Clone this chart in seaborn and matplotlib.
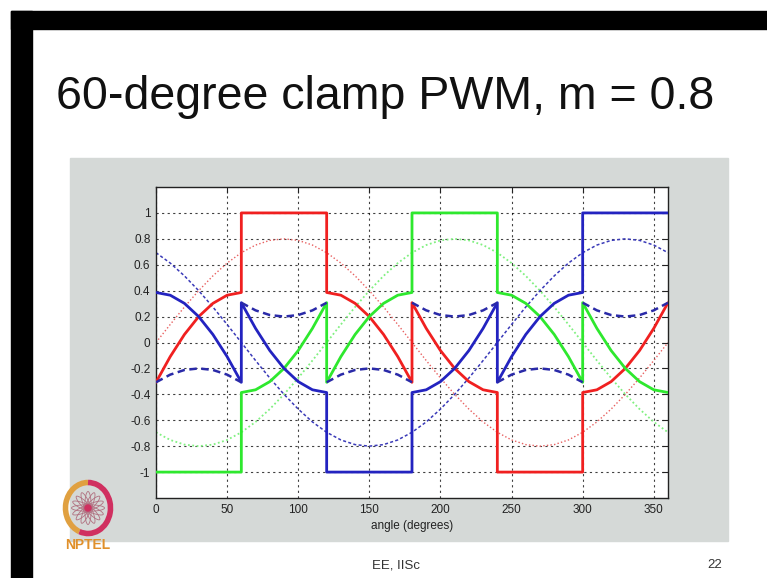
import matplotlib
matplotlib.use("Agg")
import matplotlib.pyplot as plt
import matplotlib.patches as mpatches
import seaborn as sns

# reference sinusoids, m = 0.8, sampled every 10 degrees
angle = [0, 10, 20, 30, 40, 50, 60, 70, 80, 90, 100, 110, 120, 130, 140, 150, 160, 170, 180,
         190, 200, 210, 220, 230, 240, 250, 260, 270, 280, 290, 300, 310, 320, 330, 340, 350, 360]
red_ref = [0, 0.139, 0.274, 0.400, 0.514, 0.613, 0.693, 0.752, 0.788, 0.800, 0.788, 0.752, 0.693,
           0.613, 0.514, 0.400, 0.274, 0.139, 0, -0.139, -0.274, -0.400, -0.514, -0.613, -0.693,
           -0.752, -0.788, -0.800, -0.788, -0.752, -0.693, -0.613, -0.514, -0.400, -0.274, -0.139, 0]
green_ref = [-0.693, -0.752, -0.788, -0.800, -0.788, -0.752, -0.693, -0.613, -0.514, -0.400, -0.274,
             -0.139, 0, 0.139, 0.274, 0.400, 0.514, 0.613, 0.693, 0.752, 0.788, 0.800, 0.788, 0.752,
             0.693, 0.613, 0.514, 0.400, 0.274, 0.139, 0, -0.139, -0.274, -0.400, -0.514, -0.613, -0.693]
blue_ref = [0.693, 0.613, 0.514, 0.400, 0.274, 0.139, 0, -0.139, -0.274, -0.400, -0.514, -0.613,
            -0.693, -0.752, -0.788, -0.800, -0.788, -0.752, -0.693, -0.613, -0.514, -0.400, -0.274,
            -0.139, 0, 0.139, 0.274, 0.400, 0.514, 0.613, 0.693, 0.752, 0.788, 0.800, 0.788, 0.752, 0.693]

# clamped modulating waves, one 60-degree sector after another (jumps at sector edges)
angle_clamp = [0, 10, 20, 30, 40, 50, 60,
               60, 70, 80, 90, 100, 110, 120,
               120, 130, 140, 150, 160, 170, 180,
               180, 190, 200, 210, 220, 230, 240,
               240, 250, 260, 270, 280, 290, 300,
               300, 310, 320, 330, 340, 350, 360]
red_mod = [-0.307, -0.109, 0.062, 0.200, 0.302, 0.365, 0.386,
           1, 1, 1, 1, 1, 1, 1,
           0.386, 0.365, 0.302, 0.200, 0.062, -0.109, -0.307,
           0.307, 0.109, -0.062, -0.200, -0.302, -0.365, -0.386,
           -1, -1, -1, -1, -1, -1, -1,
           -0.386, -0.365, -0.302, -0.200, -0.062, 0.109, 0.307]
green_mod = [-1, -1, -1, -1, -1, -1, -1,
             -0.386, -0.365, -0.302, -0.200, -0.062, 0.109, 0.307,
             -0.307, -0.109, 0.062, 0.200, 0.302, 0.365, 0.386,
             1, 1, 1, 1, 1, 1, 1,
             0.386, 0.365, 0.302, 0.200, 0.062, -0.109, -0.307,
             0.307, 0.109, -0.062, -0.200, -0.302, -0.365, -0.386]
blue_mod = [0.386, 0.365, 0.302, 0.200, 0.062, -0.109, -0.307,
            0.307, 0.109, -0.062, -0.200, -0.302, -0.365, -0.386,
            -1, -1, -1, -1, -1, -1, -1,
            -0.386, -0.365, -0.302, -0.200, -0.062, 0.109, 0.307,
            -0.307, -0.109, 0.062, 0.200, 0.302, 0.365, 0.386,
            1, 1, 1, 1, 1, 1, 1]
# common-mode offset added to the references
offset = [-0.307, -0.248, -0.212, -0.200, -0.212, -0.248, -0.307,
          0.307, 0.248, 0.212, 0.200, 0.212, 0.248, 0.307,
          -0.307, -0.248, -0.212, -0.200, -0.212, -0.248, -0.307,
          0.307, 0.248, 0.212, 0.200, 0.212, 0.248, 0.307,
          -0.307, -0.248, -0.212, -0.200, -0.212, -0.248, -0.307,
          0.307, 0.248, 0.212, 0.200, 0.212, 0.248, 0.307]
# which 60-degree sector each clamp sample belongs to
sector = [i // 7 for i in range(len(angle_clamp))]

x_ticks = [0, 50, 100, 150, 200, 250, 300, 350]
y_ticks = [-1, -0.8, -0.6, -0.4, -0.2, 0, 0.2, 0.4, 0.6, 0.8, 1]
y_labels = ["-1", "-0.8", "-0.6", "-0.4", "-0.2", "0", "0.2", "0.4", "0.6", "0.8", "1"]

RED = "#f02020"
GREEN = "#2ee82e"
BLUE = "#2323c0"

sns.set_style("white")
plt.rcParams['font.family'] = ['Liberation Sans', 'DejaVu Sans']

W, H = 767, 578
fig = plt.figure(figsize=(W / 100, H / 100), dpi=100, facecolor="white")

# slide frame: black strip on top and left, grey panel behind the plot
frame = [((11 / W, 1 - 29 / H), 1, 18 / H, "black"),
         ((11 / W, 0), 21 / W, 1 - 11 / H, "black"),
         ((70 / W, 1 - 541 / H), 658 / W, 383 / H, "#d5d9d7")]
for xy, w, h, c in frame:
    fig.add_artist(mpatches.Rectangle(xy, w, h, transform=fig.transFigure, color=c, zorder=-10))

fig.text(385 / W, 1 - 97 / H, "60-degree clamp PWM, m = 0.8", ha="center", va="center",
         fontsize=33.5, color="#111111")
fig.text(396 / W, 1 - 565 / H, "EE, IISc", ha="center", va="center", fontsize=9.5, color="#333333")
fig.text(715 / W, 1 - 565 / H, "22", ha="center", va="center", fontsize=9.5, color="#333333")

ax = fig.add_axes([156 / W, 1 - 498 / H, 512 / W, 311 / H])
ax.set_facecolor("white")

line_kw = dict(ax=ax, estimator=None, sort=False, legend=False)
# dotted references
sns.lineplot(x=angle, y=red_ref, color="#e86060", lw=1.0, ls=(0, (1, 1.6)), zorder=2, **line_kw)
sns.lineplot(x=angle, y=green_ref, color="#80f080", lw=1.3, ls=(0, (1, 1.4)), zorder=2, **line_kw)
sns.lineplot(x=angle, y=blue_ref, color="#3a3ab8", lw=1.1, ls=(0, (2, 1.5)), zorder=2, **line_kw)
# clamped modulating waves
sns.lineplot(x=angle_clamp, y=red_mod, color=RED, lw=2, zorder=3, **line_kw)
sns.lineplot(x=angle_clamp, y=green_mod, color=GREEN, lw=2, zorder=3, **line_kw)
sns.lineplot(x=angle_clamp, y=blue_mod, color=BLUE, lw=2, zorder=3, **line_kw)
# offset, one piece per sector
sns.lineplot(x=angle_clamp, y=offset, units=sector, color="#2a2aa8", lw=1.8, ls=(0, (3, 1.8)),
             zorder=4, **line_kw)

ax.set_xlim(0, 360)
ax.set_ylim(-1.2, 1.2)
ax.set_xticks(x_ticks)
ax.set_yticks(y_ticks)
ax.set_yticklabels(y_labels)
ax.set_axisbelow(True)
ax.grid(True, color="black", lw=0.8, ls=(0, (2, 3)), alpha=0.75)
ax.tick_params(direction="in", top=True, right=True, length=4, width=0.8, labelsize=8.5,
               colors="#222222", pad=4)
for s in ax.spines.values():
    s.set_visible(True)
    s.set_color("#222222")
    s.set_linewidth(1.0)
ax.set_xlabel("angle (degrees)", fontsize=8.5, color="#222222", labelpad=3)
ax.set_ylabel("")

# NPTEL logo (simplified)
lax = fig.add_axes([58 / W, 1 - 538 / H, 60 / W, 60 / H])
lax.set_xlim(-1, 1)
lax.set_ylim(-1, 1)
lax.set_aspect("equal")
lax.axis("off")
lax.add_patch(mpatches.Arc((0, 0), 1.5, 1.7, theta1=90, theta2=250, lw=4, color="#e0a040"))
lax.add_patch(mpatches.Arc((0, 0), 1.5, 1.7, theta1=250, theta2=450, lw=4, color="#d03060"))
for k in range(8):
    lax.add_patch(mpatches.Ellipse((0, 0), 1.1, 0.22, angle=k * 22.5, fill=False, lw=0.6,
                                   color="#b07080"))
lax.add_patch(mpatches.Circle((0, 0), 0.1, color="#d03060"))
fig.text(88 / W, 1 - 545 / H, "NPTEL", ha="center", va="center", fontsize=10,
         fontweight="bold", color="#e0902a")

fig.savefig("out.png", dpi=100, facecolor=fig.get_facecolor())
